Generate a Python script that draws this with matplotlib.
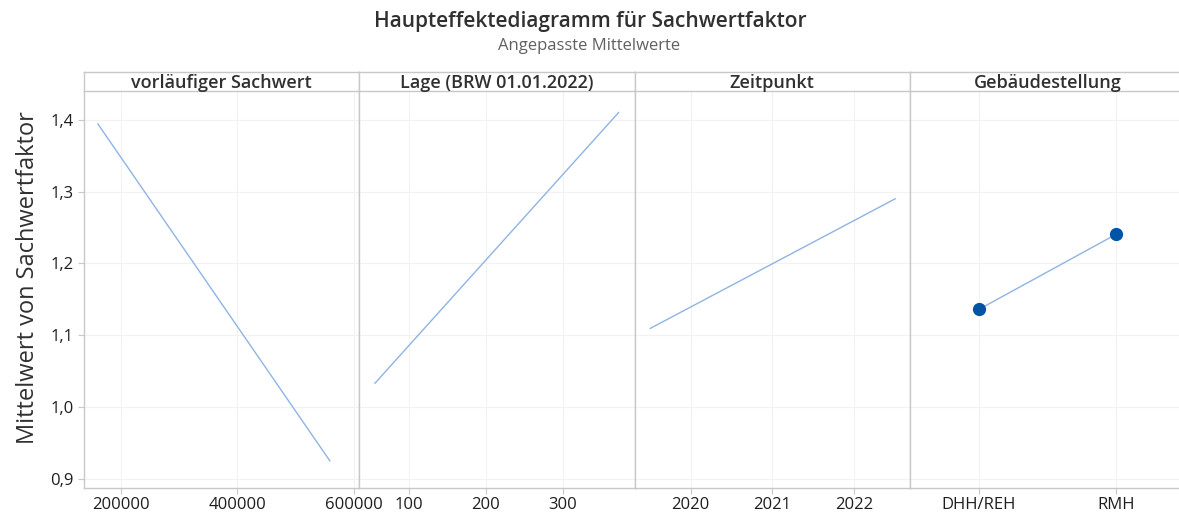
import matplotlib.pyplot as plt
from matplotlib.ticker import FuncFormatter

plt.rcParams['font.family'] = ['Open Sans', 'DejaVu Sans']

# Faktoren und angepasste Mittelwerte
panel_titles = ['vorläufiger Sachwert', 'Lage (BRW 01.01.2022)', 'Zeitpunkt', 'Gebäudestellung']

sachwert_x = [161300, 558000]
sachwert_y = [1.394, 0.9255]

lage_x = [56.4, 372.7]
lage_y = [1.0334, 1.410]

zeit_x = [2019.507, 2022.50]
zeit_y = [1.1097, 1.290]

geb_cats = ['DHH/REH', 'RMH']
geb_y = [1.136, 1.2408]

xticks = [[200000, 400000, 600000], [100, 200, 300], [2020, 2021, 2022], [0, 1]]
xticklabels = [['200000', '400000', '600000'], ['100', '200', '300'],
               ['2020', '2021', '2022'], geb_cats]
xlims = [(137400, 608500), (36, 393.5), (2019.315, 2022.68), (-0.5, 1.5)]
yticks = [0.9, 1.0, 1.1, 1.2, 1.3, 1.4]

W, H = 1179, 515
fig = plt.figure(figsize=(W / 100, H / 100), dpi=100)

left_px, pw = 84, 275.3
bottom_px, top_px, strip_px = 487.7, 91, 19
frame_col = '#c8c8c8'
line_col = '#8fb4e3'
dot_col = '#0054a6'
text_col = '#303030'

axes = []
for i in range(4):
    x0 = (left_px + i * pw) / W
    ax = fig.add_axes([x0, 1 - bottom_px / H, pw / W, (bottom_px - top_px) / H])
    axes.append(ax)
    ax.set_ylim(0.888, 1.440)
    ax.set_xlim(*xlims[i])
    ax.set_xticks(xticks[i])
    ax.set_xticklabels(xticklabels[i])
    ax.set_yticks(yticks)
    ax.grid(True, color='#f2f2f2', lw=0.8)
    ax.set_axisbelow(True)
    for s in ax.spines.values():
        s.set_color(frame_col)
        s.set_linewidth(1.0)
    ax.spines['top'].set_visible(False)
    ax.tick_params(axis='both', colors=frame_col, labelcolor='#1e1e1e',
                   labelsize=12, length=4, width=0.8)
    ax.tick_params(axis='x', pad=3)
    for lab in ax.get_xticklabels() + ax.get_yticklabels():
        lab.set_fontweight('medium')
    if i == 0:
        ax.yaxis.set_major_formatter(FuncFormatter(lambda v, p: f'{v:.1f}'.replace('.', ',')))
    else:
        ax.tick_params(axis='y', left=False, labelleft=False)

    # Streifen mit Faktorname
    sax = fig.add_axes([x0, 1 - top_px / H, pw / W, strip_px / H])
    sax.set_xticks([])
    sax.set_yticks([])
    for s in sax.spines.values():
        s.set_color(frame_col)
        s.set_linewidth(1.0)
    sax.text(0.5, 0.42, panel_titles[i], ha='center', va='center',
             fontsize=13, fontweight='semibold', color=text_col, transform=sax.transAxes)

axes[0].plot(sachwert_x, sachwert_y, color=line_col, lw=1)
axes[1].plot(lage_x, lage_y, color=line_col, lw=1)
axes[2].plot(zeit_x, zeit_y, color=line_col, lw=1)
axes[3].plot(range(len(geb_cats)), geb_y, color=line_col, lw=1,
             marker='o', markersize=8.5, markerfacecolor=dot_col,
             markeredgecolor=dot_col)

axes[0].set_ylabel('Mittelwert von Sachwertfaktor', fontsize=17, color=text_col)
axes[0].yaxis.set_label_coords(-0.16, 0.53)

fig.text(0.501, 1 - 22 / H, 'Haupteffektediagramm für Sachwertfaktor', ha='center', va='center',
         fontsize=15, fontweight='semibold', color=text_col)
fig.text(0.5, 1 - 46 / H, 'Angepasste Mittelwerte', ha='center', va='center',
         fontsize=12, color='#606060')

fig.savefig('out.png', dpi=100)
